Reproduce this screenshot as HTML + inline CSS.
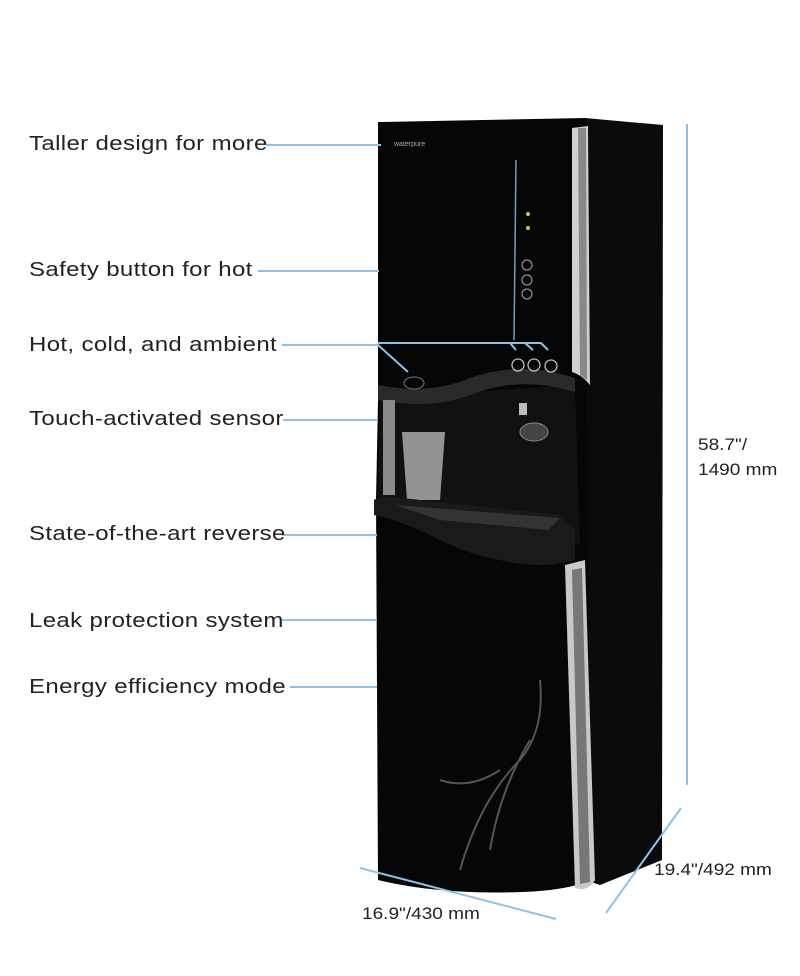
<!DOCTYPE html>
<html><head><style>
html,body{margin:0;padding:0;background:#fff;}
.w{position:relative;width:800px;height:976px;overflow:hidden;font-family:"Liberation Sans",sans-serif;}
.l{position:absolute;left:29px;font-size:20px;color:#222;letter-spacing:0.3px;white-space:nowrap;transform:scaleX(1.2);transform-origin:0 0}
.d{position:absolute;font-size:17px;color:#222;transform:scaleX(1.12);transform-origin:0 0;white-space:nowrap}
</style></head><body><div class="w">
<svg width="800" height="976" style="position:absolute;left:0;top:0">
<polygon points="585,118 663,125 662,860 600,885 585,880" fill="#0b0b0b"/>
<path d="M382,122 L585,118 L590,880 Q560,895 470,892 Q420,890 378,880 L376,500 L378,400 L378,122 Z" fill="#060606"/>
<path d="M572,128 L588,126 L590,385 Q582,375 572,372 Z" fill="#cfcfcf"/>
<path d="M578,128 L586,128 L587,380 L580,375 Z" fill="#888"/>
<path d="M565,565 L585,560 L595,880 Q588,892 575,888 Z" fill="#c8c8c8"/>
<path d="M572,570 L582,568 L590,882 L580,884 Z" fill="#777"/>
<path d="M380,398 L575,385 L580,545 L378,500 Z" fill="#111"/>
<path d="M378,385 Q430,395 470,378 Q520,360 575,378 L575,392 Q520,375 470,395 Q430,410 378,400 Z" fill="#2a2a2a"/>
<rect x="383" y="400" width="12" height="95" fill="#8a8a8a"/>
<path d="M402,432 L445,432 L440,500 L407,500 Z" fill="#aaa" opacity="0.85"/>
<ellipse cx="534" cy="432" rx="14" ry="9" fill="#444" stroke="#888"/>
<rect x="519" y="403" width="8" height="12" fill="#bbb"/>
<path d="M374,500 Q380,495 420,500 L560,515 L575,530 L575,560 Q540,570 500,560 Q470,555 440,540 Q400,520 374,515 Z" fill="#1a1a1a"/>
<path d="M395,505 L560,518 L548,530 L440,520 Z" fill="#333"/>
<line x1="516" y1="160" x2="514" y2="340" stroke="#6aa0c8" stroke-width="1.5"/>
<circle cx="528" cy="214" r="2" fill="#cc4"/><circle cx="528" cy="228" r="2" fill="#cc4"/>
<circle cx="527" cy="265" r="5" fill="none" stroke="#aaa"/><circle cx="527" cy="280" r="5" fill="none" stroke="#aaa"/><circle cx="527" cy="294" r="5" fill="none" stroke="#aaa"/>
<circle cx="518" cy="365" r="6" fill="none" stroke="#bbb" stroke-width="1.3"/>
<circle cx="534" cy="365" r="6" fill="none" stroke="#bbb" stroke-width="1.3"/>
<circle cx="551" cy="366" r="6" fill="none" stroke="#bbb" stroke-width="1.3"/>
<ellipse cx="414" cy="383" rx="10" ry="6" fill="none" stroke="#777"/>
<text x="394" y="146" font-size="7" fill="#aaa" font-family="Liberation Sans">waterpure</text>
<g stroke="#555" stroke-width="2" fill="none">
<path d="M460,870 Q480,800 520,760 Q545,730 540,680"/>
<path d="M490,850 Q500,790 530,740"/>
<path d="M440,780 Q470,790 500,770"/>
</g>
<g stroke="#8fc1e6" stroke-width="2" fill="none">
<line x1="266" y1="145" x2="381" y2="145"/>
<line x1="258" y1="271" x2="379" y2="271"/>
<polyline points="282,345 378,345 408,372"/>
<polyline points="378,343 510,343 516,350"/>
<polyline points="378,343 525,343 533,350"/>
<polyline points="378,343 541,343 548,350"/>
<line x1="283" y1="420" x2="378" y2="420"/>
<line x1="282" y1="535" x2="377" y2="535"/>
<line x1="282" y1="620" x2="377" y2="620"/>
<line x1="290" y1="687" x2="377" y2="687"/>
<line x1="687" y1="124" x2="687" y2="785"/>
<line x1="681" y1="808" x2="606" y2="913"/>
<line x1="360" y1="868" x2="556" y2="919"/>
</g>
</svg>
<div class="l" style="top:133px">Taller design for more</div>
<div class="l" style="top:259px">Safety button for hot</div>
<div class="l" style="top:334px">Hot, cold, and ambient</div>
<div class="l" style="top:408px">Touch-activated sensor</div>
<div class="l" style="top:523px">State-of-the-art reverse</div>
<div class="l" style="top:610px">Leak protection system</div>
<div class="l" style="top:676px">Energy efficiency mode</div>
<div class="d" style="left:698px;top:432px;line-height:25px">58.7"/<br>1490 mm</div>
<div class="d" style="left:654px;top:860px">19.4"/492 mm</div>
<div class="d" style="left:362px;top:904px">16.9"/430 mm</div>
</div></body></html>
